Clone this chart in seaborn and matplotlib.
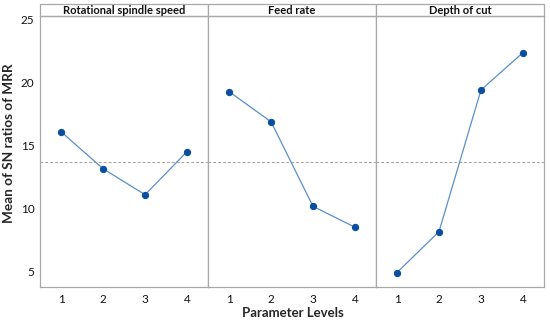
import pandas as pd
import matplotlib.pyplot as plt
import seaborn as sns
from matplotlib.patches import Rectangle

# Main-effects data (SN ratios of MRR)
factors = ['Rotational spindle speed', 'Feed rate', 'Depth of cut']
levels = [1, 2, 3, 4]
spindle_speed = [16.07, 13.13, 11.07, 14.50]
feed_rate = [19.27, 16.87, 10.14, 8.48]
depth_of_cut = [4.88, 8.13, 19.40, 22.37]

df = pd.DataFrame({
    'factor': sum([[f] * 4 for f in factors], []),
    'level': levels * 3,
    'sn': spindle_speed + feed_rate + depth_of_cut,
})
grand_mean = df['sn'].mean()

sns.set_style('white')
plt.rcParams['font.family'] = ['Lato', 'DejaVu Sans']

fig, axes = plt.subplots(1, 3, figsize=(5.5, 3.21), dpi=100, sharey=True)
fig.subplots_adjust(left=0.073, right=0.989, bottom=0.106, top=0.950, wspace=0)

edge = '#a8a8a8'
for ax, fac in zip(axes, factors):
    sub = df[df['factor'] == fac]
    ax.axhline(grand_mean, color='#a0a0a0', linestyle=(0, (3, 2)), linewidth=0.7, zorder=1)
    sns.lineplot(data=sub, x='level', y='sn', ax=ax, color='#5b8fc9', linewidth=0.9,
                 marker='o', markersize=4.5, markerfacecolor='#0a4ea0',
                 markeredgecolor='#0a4ea0', zorder=3)
    ax.set_xlim(0.5, 4.5)
    ax.set_ylim(3.73, 25.28)
    ax.set_xticks(levels)
    ax.set_yticks([5, 10, 15, 20, 25])
    ax.tick_params(axis='both', labelsize=8.5, length=2, color=edge, pad=2, labelcolor='#111111')
    ax.tick_params(axis='x', length=0, pad=5)
    for s in ax.spines.values():
        s.set_color(edge)
        s.set_linewidth(0.9)
    ax.set_xlabel('')
    ax.set_ylabel('')
    # header strip
    h = 12 / 271
    ax.add_patch(Rectangle((0, 1), 1, h, transform=ax.transAxes, facecolor='white',
                           edgecolor=edge, linewidth=0.9, clip_on=False))
    ax.text(0.5, 1 + h / 2, fac, transform=ax.transAxes, ha='center', va='center',
            fontsize=8, fontweight='bold', color='#111111')

for ax in axes[1:]:
    ax.tick_params(axis='y', left=False, labelleft=False)

fig.text(0.017, 0.553, 'Mean of SN ratios of MRR', rotation=90, ha='center', va='center',
         fontsize=9.8, fontweight='bold')
fig.text(0.532, 0.025, 'Parameter Levels', ha='center', va='center',
         fontsize=9.5, fontweight='bold')

fig.savefig('out.png', dpi=100)
